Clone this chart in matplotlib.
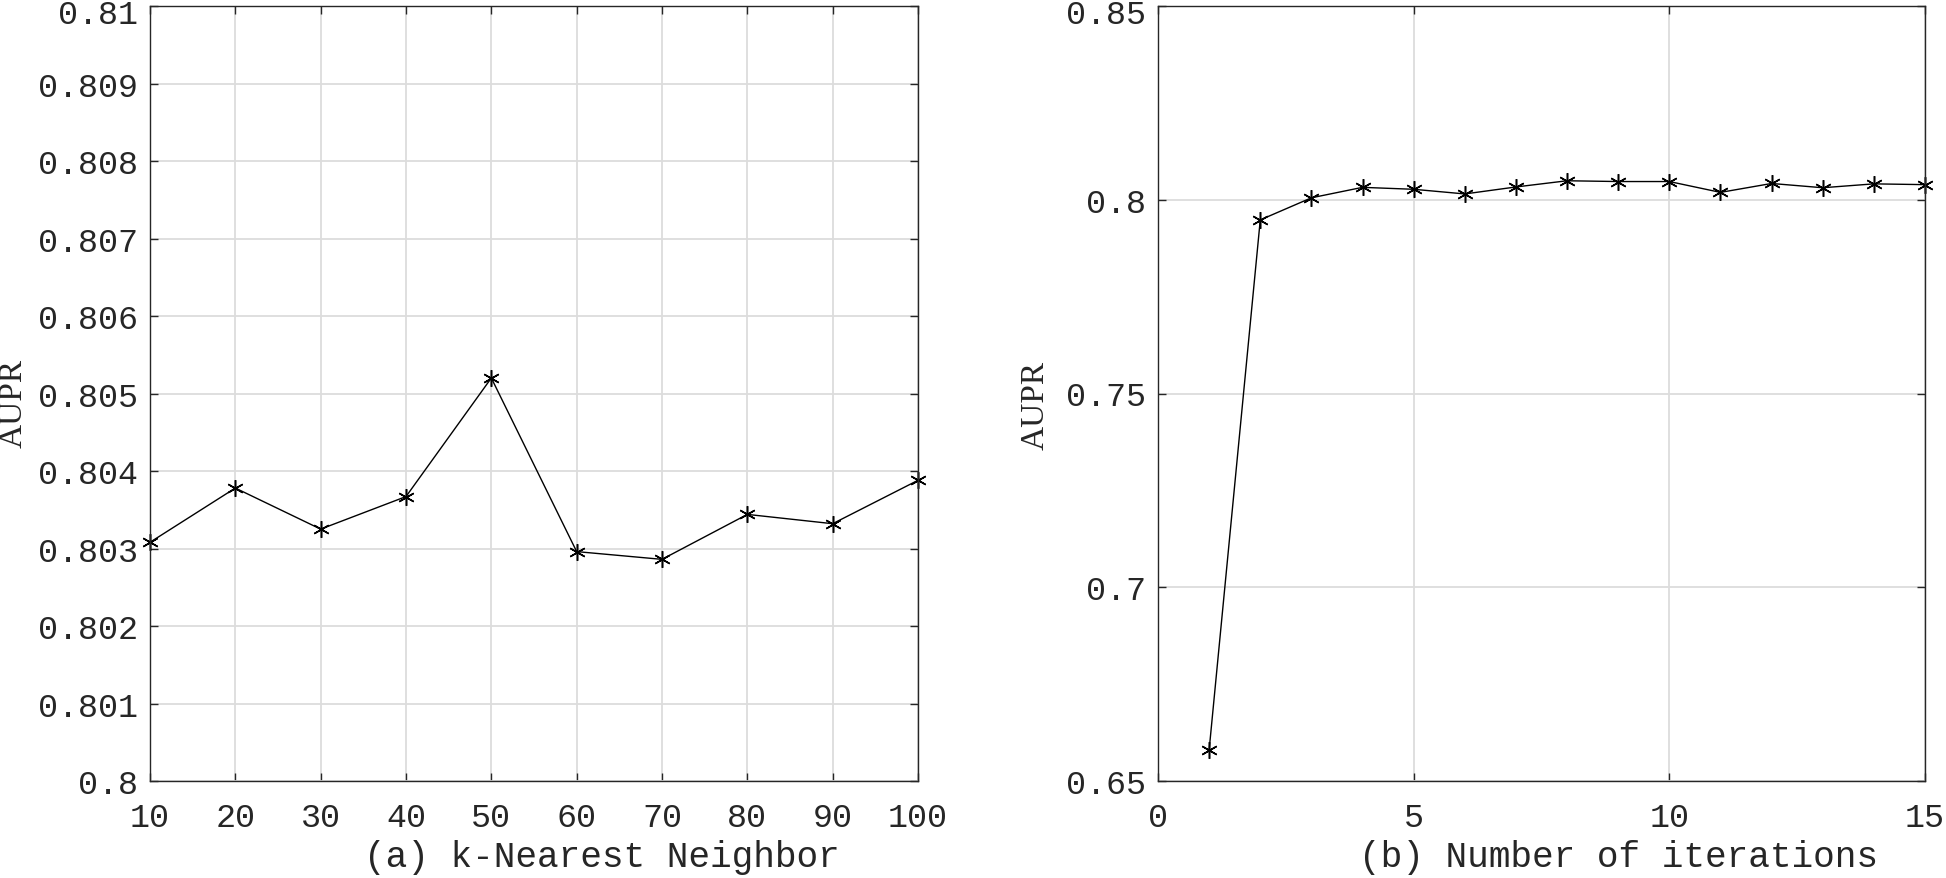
import matplotlib
matplotlib.use("Agg")
import matplotlib.pyplot as plt
import matplotlib.transforms as mtransforms

# Panel (a): k-Nearest Neighbor
k_values = [10, 20, 30, 40, 50, 60, 70, 80, 90, 100]
aupr_k = [0.80308, 0.80378, 0.80325, 0.80367, 0.80520, 0.80296, 0.80286, 0.80344, 0.80332, 0.80388]
k_yticks = [0.800, 0.801, 0.802, 0.803, 0.804, 0.805, 0.806, 0.807, 0.808, 0.809, 0.810]
k_yticklabels = ["0.8", "0.801", "0.802", "0.803", "0.804", "0.805", "0.806", "0.807", "0.808", "0.809", "0.81"]

# Panel (b): Number of iterations
iters = list(range(1, 16))
aupr_it = [0.658, 0.7948, 0.8005, 0.8032, 0.8027, 0.8015, 0.8033, 0.8049, 0.8047, 0.8047,
           0.8019, 0.8042, 0.8031, 0.8041, 0.8039]
it_xticks = [0, 5, 10, 15]
it_yticks = [0.65, 0.70, 0.75, 0.80, 0.85]
it_yticklabels = ["0.65", "0.7", "0.75", "0.8", "0.85"]

TICK_FONT = "Liberation Mono"
LABEL_FONT = "Liberation Mono"
YLABEL_FONT = "Liberation Serif"
INK = "#262626"

W, H = 1946, 879
fig = plt.figure(figsize=(W / 100, H / 100), dpi=100)
ASTERISK = (6, 2, 0)


def style(ax):
    for s in ax.spines.values():
        s.set_color(INK)
        s.set_linewidth(1.0)
    ax.grid(True, color="#dcdcdc", linewidth=1.3)
    ax.set_axisbelow(True)
    ax.tick_params(direction="in", length=6, width=1.0, color=INK,
                   top=True, right=True, labelsize=24, labelcolor=INK)
    ax.tick_params(axis="y", pad=9)
    ax.tick_params(axis="x", pad=15)
    for lab in ax.get_xticklabels() + ax.get_yticklabels():
        lab.set_fontfamily(TICK_FONT)
    # nudge the topmost y tick label down so it stays inside the figure
    top = ax.get_yticklabels()[-1]
    top.set_transform(top.get_transform() +
                      mtransforms.ScaledTranslation(0, -5 / 100, fig.dpi_scale_trans))


# left axes
axL = fig.add_axes([150 / W, (H - 782) / H, (918 - 150) / W, (782 - 7) / H])
axL.plot(k_values, aupr_k, color="black", linewidth=1.0, marker=ASTERISK, markersize=12,
         markeredgewidth=1.1, markeredgecolor="black", clip_on=False)
axL.set_xlim(10, 100)
axL.set_ylim(0.800, 0.810)
axL.set_xticks(k_values)
axL.set_xticklabels([str(v) for v in k_values])
axL.set_yticks(k_yticks)
axL.set_yticklabels(k_yticklabels)
style(axL)
axL.set_xlabel("(a) k-Nearest Neighbor", fontsize=26, family=LABEL_FONT, color=INK)
axL.xaxis.set_label_coords(0.589, -0.098)
axL.xaxis.label.set_verticalalignment("center")
axL.set_ylabel("AUPR", fontsize=24, family=YLABEL_FONT, color=INK)
axL.yaxis.set_label_coords(-0.178, 0.489)
axL.yaxis.label.set_verticalalignment("center")

# right axes
axR = fig.add_axes([1158 / W, (H - 782) / H, (1925 - 1158) / W, (782 - 7) / H])
axR.plot(iters, aupr_it, color="black", linewidth=1.0, marker=ASTERISK, markersize=12,
         markeredgewidth=1.1, markeredgecolor="black", clip_on=False)
axR.set_xlim(0, 15)
axR.set_ylim(0.65, 0.85)
axR.set_xticks(it_xticks)
axR.set_xticklabels([str(v) for v in it_xticks])
axR.set_yticks(it_yticks)
axR.set_yticklabels(it_yticklabels)
style(axR)
axR.set_xlabel("(b) Number of iterations", fontsize=26, family=LABEL_FONT, color=INK)
axR.xaxis.set_label_coords(0.60, -0.098)
axR.xaxis.label.set_verticalalignment("center")
axR.set_ylabel("AUPR", fontsize=24, family=YLABEL_FONT, color=INK)
axR.yaxis.set_label_coords(-0.160, 0.486)
axR.yaxis.label.set_verticalalignment("center")

fig.savefig("out.png", dpi=100, facecolor="white")
